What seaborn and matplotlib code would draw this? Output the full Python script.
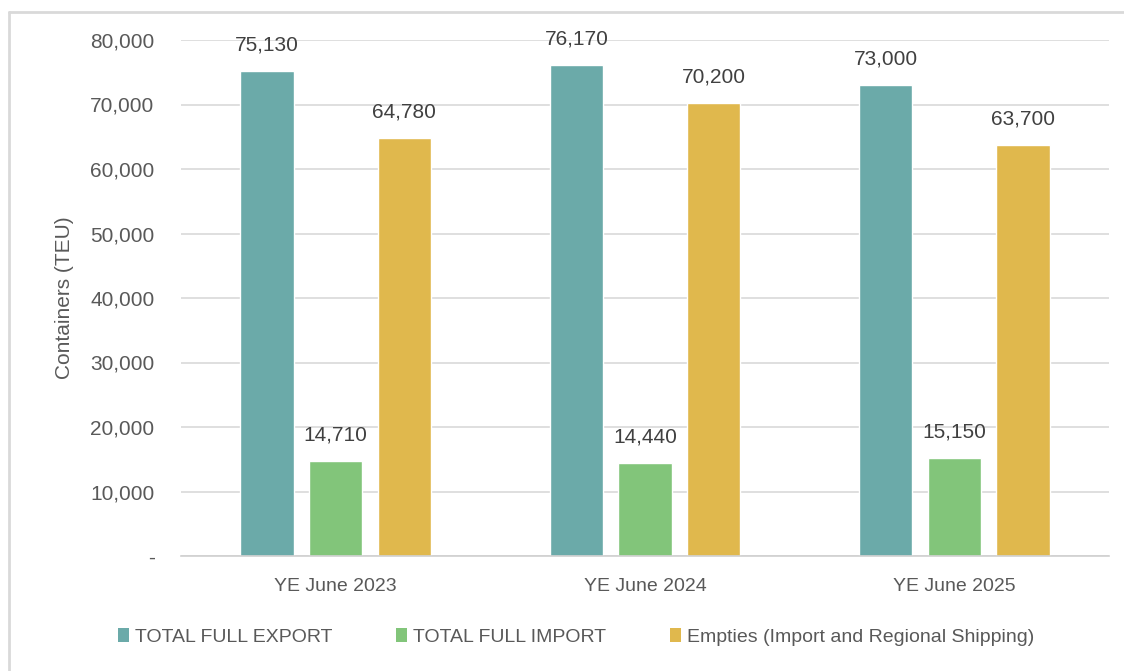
import matplotlib
matplotlib.use("Agg")
import matplotlib.pyplot as plt
from matplotlib.lines import Line2D
from matplotlib.patches import Patch
import seaborn as sns
import pandas as pd

categories = ["YE June 2023", "YE June 2024", "YE June 2025"]
series_names = ["TOTAL FULL EXPORT", "TOTAL FULL IMPORT",
                "Empties (Import and Regional Shipping)"]
export_vals = [75130, 76170, 73000]
import_vals = [14710, 14440, 15150]
empties_vals = [64780, 70200, 63700]
y_ticks = [0, 10000, 20000, 30000, 40000, 50000, 60000, 70000, 80000]
colors = ["#6BAAA9", "#82C57A", "#E0B84D"]

sns.set_theme(style="white")
plt.rcParams["font.family"] = ["Liberation Sans", "DejaVu Sans"]

rows = []
for name, vals in zip(series_names, [export_vals, import_vals, empties_vals]):
    for c, v in zip(categories, vals):
        rows.append({"Category": c, "Series": name, "Value": v})
df = pd.DataFrame(rows)

W, H = 1124, 671
fig = plt.figure(figsize=(W / 100, H / 100), dpi=100)
ax = fig.add_axes([181 / W, 1 - 556 / H, (1109 - 181) / W, (556 - 40) / H])

sns.barplot(data=df, x="Category", y="Value", hue="Series",
            palette=colors, width=0.666, gap=0.22, ax=ax,
            saturation=1, legend=False, errorbar=None)

ax.set_ylim(0, 80000)
ax.set_xlim(-0.5, 2.5)
ax.set_yticks(y_ticks)
ax.set_yticklabels(["-" if t == 0 else f"{t:,}" for t in y_ticks])
ax.grid(axis="y", color="#D9D9D9", linewidth=1.2)
ax.set_axisbelow(True)
for s in ["top", "right", "left"]:
    ax.spines[s].set_visible(False)
ax.spines["bottom"].set_color("#D0D0D0")
ax.spines["bottom"].set_linewidth(1.2)
ax.tick_params(axis="y", length=0, pad=19, labelsize=15, labelcolor="#595959")
ax.tick_params(axis="x", length=0, pad=16, labelsize=14, labelcolor="#595959")
ax.set_xlabel("")
ax.set_ylabel("Containers (TEU)", fontsize=15, color="#595959", labelpad=12)

for cont in ax.containers:
    ax.bar_label(cont, labels=[f"{v:,.0f}" for v in cont.datavalues],
                 padding=12, fontsize=15, color="#404040")

handles = [Patch(facecolor=c, edgecolor="none") for c in colors]
fig.legend(handles, series_names, loc="center", bbox_to_anchor=(576 / W, 1 - 637 / H),
           ncol=3, frameon=False, handlelength=0.55, handleheight=0.75,
           handletextpad=0.3, columnspacing=3.3,
           prop={"size": 14}, labelcolor="#595959")

fig.add_artist(Line2D([9 / W, 9 / W], [0, 1 - 12 / H], color="#D9D9D9", lw=2,
                      transform=fig.transFigure))
fig.add_artist(Line2D([9 / W, 1], [1 - 12 / H, 1 - 12 / H], color="#D9D9D9", lw=2,
                      transform=fig.transFigure))

fig.savefig("out.png", dpi=100, facecolor="white")
